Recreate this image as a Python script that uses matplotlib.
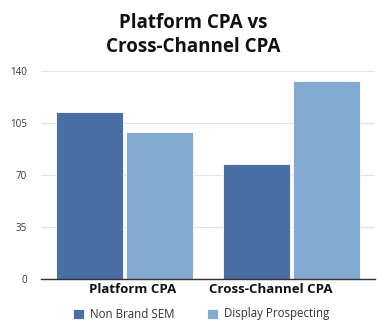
import numpy as np
import matplotlib
matplotlib.use("Agg")
import matplotlib.pyplot as plt

categories = ["Platform CPA", "Cross-Channel CPA"]
series_names = ["Non Brand SEM", "Display Prospecting"]
non_brand_sem = [112, 77]
display_prospecting = [99, 133]
y_ticks = [0, 35, 70, 105, 140]

colors = ["#4a6fa5", "#83aad1"]

plt.rcParams["font.family"] = ["Open Sans", "DejaVu Sans"]

fig = plt.figure(figsize=(3.87, 3.32), dpi=100)
ax = fig.add_axes([41 / 387, 1 - 279 / 332, 334 / 387, (279 - 70.7) / 332])

x = np.arange(len(categories))
w = 0.405
ax.bar(x - 0.21, non_brand_sem, w, color=colors[0], edgecolor="white", linewidth=0.6,
       label=series_names[0], zorder=3)
ax.bar(x + 0.21, display_prospecting, w, color=colors[1], edgecolor="white", linewidth=0.6,
       label=series_names[1], zorder=3)

ax.set_xlim(-0.5, 1.5)
ax.set_ylim(0, 140)
ax.set_yticks(y_ticks)
ax.set_yticklabels([str(t) for t in y_ticks], fontsize=7, color="#333333")
# category labels sit slightly inward from the group centres (ticks are hidden)
ax.set_xticks(x + np.array([0.048, -0.126]))
ax.set_xticklabels(categories, fontsize=9.5, fontweight="bold", color="#111111")
ax.tick_params(axis="both", length=0)
ax.tick_params(axis="y", pad=10)
ax.tick_params(axis="x", pad=3)
ax.grid(axis="y", color="#e3e3e3", linewidth=0.8, zorder=0)
for side in ["top", "right", "left"]:
    ax.spines[side].set_visible(False)
ax.spines["bottom"].set_color("#333333")
ax.spines["bottom"].set_linewidth(1.0)
ax.spines["bottom"].set_zorder(4)

fig.text(0.5, 1 - 35 / 332, "Platform CPA vs\nCross-Channel CPA", ha="center", va="center",
         fontsize=13.5, fontweight="bold", color="#111111", linespacing=1.25)

fig.legend(loc="center", bbox_to_anchor=(0.52, 1 - 314 / 332), ncol=2, frameon=False,
           fontsize=8.3, handlelength=0.95, handleheight=0.95, columnspacing=2.8,
           handletextpad=0.55, labelcolor="#333333")

fig.savefig("out.png", dpi=100)
